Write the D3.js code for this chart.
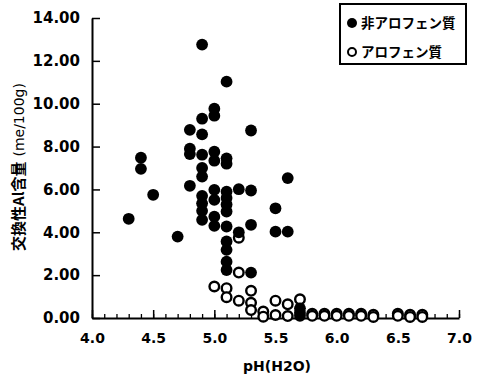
<!DOCTYPE html>
<html>
<head>
<meta charset="utf-8">
<script src="https://cdn.jsdelivr.net/npm/d3@7"></script>
<style>
  body { margin: 0; background: #fff; }
  svg { display: block; }
</style>
</head>
<body>
<div id="chart"></div>
<script>
// 非アロフェン質 (filled) : [pH, Al]
var nonAllophane = [
  [4.3, 4.63],
  [4.4, 7.48], [4.4, 6.96],
  [4.5, 5.75],
  [4.7, 3.8],
  [4.8, 8.78], [4.8, 7.9], [4.8, 7.65], [4.8, 6.17],
  [4.9, 12.76], [4.9, 9.3], [4.9, 8.57], [4.9, 7.62], [4.9, 7.0], [4.9, 6.6],
  [4.9, 5.7], [4.9, 5.35], [4.9, 5.0], [4.9, 4.58],
  [5.0, 9.77], [5.0, 9.44], [5.0, 7.76], [5.0, 7.34], [5.0, 5.98], [5.0, 5.51],
  [5.0, 4.73], [5.0, 4.3],
  [5.1, 11.03], [5.1, 7.45], [5.1, 7.2], [5.1, 5.9], [5.1, 5.6], [5.1, 5.3],
  [5.1, 4.97], [5.1, 4.27], [5.1, 3.57], [5.1, 3.18], [5.1, 2.63], [5.1, 2.24],
  [5.2, 6.01], [5.2, 4.0],
  [5.3, 8.75], [5.3, 5.95], [5.3, 4.35], [5.3, 2.12],
  [5.5, 5.12], [5.5, 4.03],
  [5.6, 6.53], [5.6, 4.03],
  [5.7, 0.45], [5.7, 0.25], [5.7, 0.1]
];

// アロフェン質 (open)
var allophane = [
  [5.0, 1.47],
  [5.1, 1.39], [5.1, 0.97],
  [5.2, 3.75], [5.2, 2.12], [5.2, 0.81],
  [5.3, 1.27], [5.3, 0.71], [5.3, 0.37],
  [5.4, 0.3], [5.4, 0.06],
  [5.5, 0.81], [5.5, 0.14],
  [5.6, 0.64], [5.6, 0.09],
  [5.7, 0.87],
  [5.8, 0.2], [5.8, 0.1],
  [5.9, 0.2], [5.9, 0.1],
  [6.0, 0.2], [6.0, 0.1],
  [6.1, 0.2], [6.1, 0.1],
  [6.2, 0.2], [6.2, 0.1],
  [6.3, 0.15], [6.3, 0.05],
  [6.5, 0.2], [6.5, 0.1],
  [6.6, 0.15], [6.6, 0.05],
  [6.7, 0.15], [6.7, 0.05]
];

var xTicks = [4.0, 4.5, 5.0, 5.5, 6.0, 6.5, 7.0];
var yTicks = [0, 2, 4, 6, 8, 10, 12, 14];
var legendLabels = ["非アロフェン質", "アロフェン質"];

var W = 478, H = 379;
var svg = d3.select("#chart").append("svg")
  .attr("width", W)
  .attr("height", H);

// scales
var x = d3.scaleLinear().domain([4, 7]).range([92, 459]);
var y = d3.scaleLinear().domain([0, 14]).range([318, 18]);

var numFont = "DejaVu Sans, sans-serif";
var jpFont = "'Noto Sans CJK JP', sans-serif";

// minor x ticks
svg.append("g")
  .attr("transform", "translate(0,318)")
  .call(d3.axisBottom(x).ticks(30).tickSizeInner(-4).tickSizeOuter(0).tickFormat(""))
  .call(function(g) { g.select(".domain").remove(); })
  .selectAll("line").attr("stroke-width", 1.3);

// x axis
var gx = svg.append("g")
  .attr("transform", "translate(0,318)")
  .call(d3.axisBottom(x).tickValues(xTicks).tickSizeInner(-8).tickSizeOuter(0)
    .tickPadding(15).tickFormat(d3.format(".1f")));
gx.select(".domain").attr("stroke-width", 2);
gx.selectAll("line").attr("stroke-width", 1.5);
gx.selectAll("text")
  .attr("font-family", numFont).attr("font-size", 14).attr("font-weight", "bold").attr("fill", "#000");

// y axis
var gy = svg.append("g")
  .attr("transform", "translate(92,0)")
  .call(d3.axisLeft(y).tickValues(yTicks).tickSizeInner(-8).tickSizeOuter(0)
    .tickPadding(12).tickFormat(d3.format(".2f")));
gy.select(".domain").attr("stroke-width", 2);
gy.selectAll("line").attr("stroke-width", 1.5);
gy.selectAll("text")
  .attr("font-family", numFont).attr("font-size", 15).attr("font-weight", "bold").attr("fill", "#000");

// axis titles
svg.append("text")
  .attr("x", 277).attr("y", 371)
  .attr("text-anchor", "middle")
  .attr("font-family", numFont).attr("font-size", 14).attr("font-weight", "bold")
  .text("pH(H2O)");

var yt = svg.append("text")
  .attr("transform", "translate(24,167) rotate(-90)")
  .attr("text-anchor", "middle");
yt.append("tspan").attr("font-family", jpFont).attr("font-weight", "bold")
  .attr("font-size", 15).text("交換性Al含量");
yt.append("tspan").attr("font-family", numFont).attr("font-size", 14)
  .attr("dx", 5).text("(me/100g)");

// points
svg.append("g").selectAll("circle")
  .data(allophane)
  .enter().append("circle")
  .attr("cx", function(d) { return x(d[0]); })
  .attr("cy", function(d) { return y(d[1]); })
  .attr("r", 4.8)
  .attr("fill", "#fff")
  .attr("stroke", "#000")
  .attr("stroke-width", 2.4);

svg.append("g").selectAll("circle")
  .data(nonAllophane)
  .enter().append("circle")
  .attr("cx", function(d) { return x(d[0]); })
  .attr("cy", function(d) { return y(d[1]); })
  .attr("r", 5.9)
  .attr("fill", "#000");

// legend
var lg = svg.append("g");
lg.append("rect")
  .attr("x", 340).attr("y", 4).attr("width", 126).attr("height", 60)
  .attr("fill", "#fff").attr("stroke", "#000").attr("stroke-width", 2);
lg.append("circle").attr("cx", 352).attr("cy", 23).attr("r", 5).attr("fill", "#000");
lg.append("circle").attr("cx", 352).attr("cy", 52).attr("r", 4).attr("fill", "#fff")
  .attr("stroke", "#000").attr("stroke-width", 2);
lg.selectAll("text.lab")
  .data(legendLabels)
  .enter().append("text")
  .attr("class", "lab")
  .attr("x", 361)
  .attr("y", function(d, i) { return 28 + i * 29; })
  .attr("font-family", jpFont).attr("font-size", 13.5).attr("font-weight", "bold")
  .text(function(d) { return d; });
</script>
</body>
</html>
